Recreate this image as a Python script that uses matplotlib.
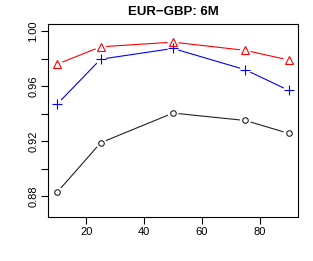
import numpy as np
import matplotlib
matplotlib.use('Agg')
import matplotlib.pyplot as plt

# horizons and the three series
horizons = [10, 25, 50, 75, 90]
red_tri = [0.976, 0.9886, 0.992, 0.986, 0.979]
blue_plus = [0.947, 0.9796, 0.9874, 0.9719, 0.9569]
black_circ = [0.8829, 0.9188, 0.9404, 0.935, 0.9256]

x_ticks = [20, 40, 60, 80]
y_ticks = [0.88, 0.90, 0.92, 0.94, 0.96, 0.98, 1.00]
y_labels = ['0.88', '', '0.92', '', '0.96', '', '1.00']

plt.rcParams['font.family'] = ['Liberation Sans', 'DejaVu Sans']

fig = plt.figure(figsize=(3.13, 2.61), dpi=100)
ax = fig.add_axes([0.1534, 0.1686, 0.7987, 0.7395])
ax.set_xlim(6.8, 93.2)
ax.set_ylim(0.8648, 1.0052)


def type_b(ax, x, y, color, marker, ms, gap=6):
    # R style type="b": segments stop short of each point
    pts = ax.transData.transform(np.column_stack([x, y]))
    inv = ax.transData.inverted()
    for p0, p1 in zip(pts[:-1], pts[1:]):
        d = p1 - p0
        L = np.hypot(*d)
        if L <= 2 * gap:
            continue
        u = d / L
        seg = inv.transform(np.array([p0 + u * gap, p1 - u * gap]))
        ax.plot(seg[:, 0], seg[:, 1], color=color, lw=0.8)
    ax.plot(x, y, ls='none', marker=marker, ms=ms, mfc='none', mec=color, mew=0.8)


type_b(ax, horizons, black_circ, '#222222', 'o', 4)
type_b(ax, horizons, blue_plus, '#0000ff', '+', 6.5)
type_b(ax, horizons, red_tri, '#ff0000', '^', 5.5)

ax.set_xticks(x_ticks)
ax.set_xticklabels([str(t) for t in x_ticks])
ax.set_yticks(y_ticks)
ax.set_yticklabels(y_labels)
ax.tick_params(axis='both', direction='out', length=5, width=0.8, labelsize=8, pad=2)
for lab in ax.get_yticklabels():
    lab.set_rotation(90)
    lab.set_va('center')
for s in ax.spines.values():
    s.set_linewidth(0.8)

fig.text(0.5527, 0.954, 'EUR\u2212GBP: 6M', ha='center', va='center', fontsize=9.5, fontweight='bold')

fig.savefig('out.png', dpi=100)
